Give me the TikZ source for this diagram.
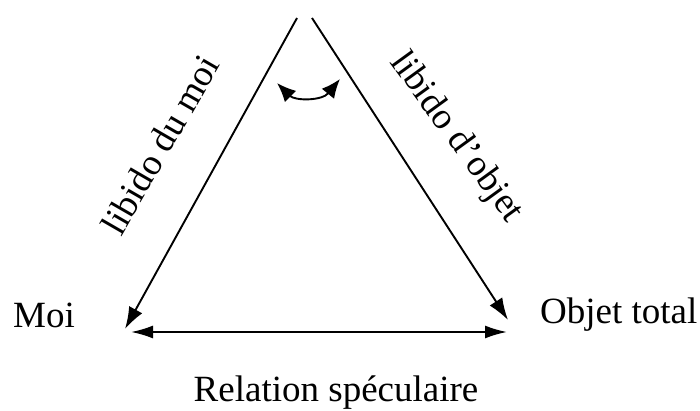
\documentclass[tikz,border=0pt]{standalone}
\usepackage{fontspec}
\setmainfont{Liberation Serif}
\usetikzlibrary{arrows.meta}

\begin{document}
\begin{tikzpicture}[x=1pt,y=1pt,
  lbl/.style={font=\fontsize{37}{44}\selectfont, inner sep=0pt},
  pointe/.style={Latex[length=22pt,width=15pt]},
  fleche/.style={line width=1.9pt, -{Latex[length=22pt,width=15pt]}}]
\useasboundingbox (0,0) rectangle (700,411);
\coordinate (hautG) at (297,393);
\coordinate (hautD) at (312,393);
\coordinate (pMoi) at (125,82);
\coordinate (pObjet) at (508,91);
\coordinate (hG) at (131,79);
\coordinate (hD) at (507,79);
\coordinate (arcG) at (277,328);
\coordinate (arcD) at (340,332);
\node[lbl, anchor=base west] (moi) at (13,83) {Moi};
\node[lbl, anchor=base west] (objet) at (540,87) {Objet total};
\node[lbl, anchor=base] (relation) at (336,9) {Relation spéculaire};
\node[lbl, rotate=60] (libmoi) at (160,266) {libido du moi};
\node[lbl, rotate=-54] (libobjet) at (456,273) {libido d'objet};
\draw[fleche] (hautG) -- (pMoi);
\draw[fleche] (hautD) -- (pObjet);
\draw[line width=1.9pt, {Latex[length=22pt,width=13pt]}-{Latex[length=22pt,width=13pt]}] (hG) -- (hD);
\draw[line width=1.9pt, {Latex[length=19pt,width=16pt]}-{Latex[length=19pt,width=16pt]}]
  (arcG) .. controls (295,310) and (322,310) .. (arcD);
\end{tikzpicture}
\end{document}
